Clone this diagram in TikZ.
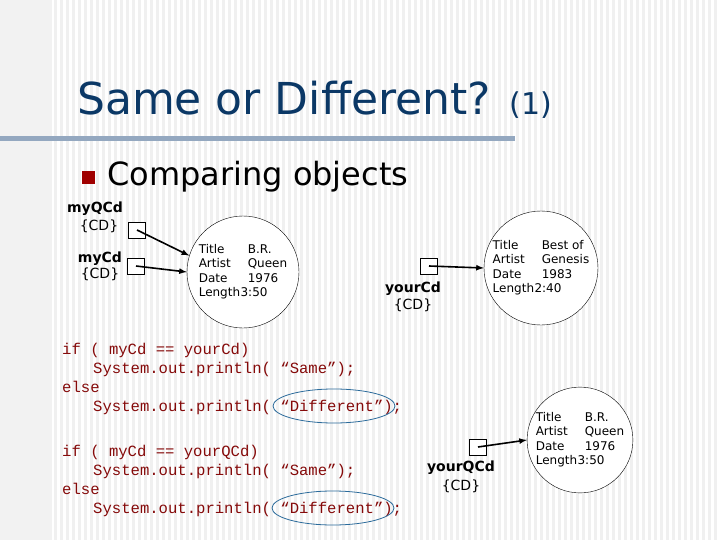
\documentclass[tikz,border=0pt]{standalone}
\usepackage{fontspec}
\setmainfont{DejaVu Sans}
\newfontfamily\codefont{Liberation Mono}
\definecolor{titleblue}{HTML}{0B3866}
\definecolor{codered}{HTML}{850A0A}
\definecolor{ringblue}{HTML}{2A6A9A}
\definecolor{rulegray}{HTML}{94A8C0}
\definecolor{bullred}{HTML}{A00000}
\begin{document}
\begin{tikzpicture}[x=1pt,y=-1pt,
  refbox/.style={draw,fill=white,minimum width=17pt,minimum height=16pt,inner sep=0pt},
  varname/.style={font=\fontsize{14}{15}\selectfont\bfseries,inner sep=0pt},
  vartype/.style={font=\fontsize{14}{15}\selectfont,inner sep=0pt},
  obj/.style={draw,circle,fill=white,inner sep=0pt,font=\fontsize{12}{14.5}\selectfont},
  ptr/.style={-latex,line width=1.6pt},
  code/.style={anchor=base west,inner sep=0pt,text=codered,font=\codefont\fontsize{15.6}{15}\selectfont},
  ring/.style={draw=ringblue,line width=0.8pt}]
\useasboundingbox (0,0) rectangle (720,540);
\fill[white] (0,0) rectangle (720,540);
\foreach \i in {0,...,119}{\fill[black!6] (\i*6,0) rectangle (\i*6+3,540);}
\foreach \i in {0,...,8}{\fill[black!11] (\i*6,0) rectangle (\i*6+3,540);}
\fill[black!5] (0,0) rectangle (52,540);
\fill[rulegray] (0,136) rectangle (515,141);
\node[anchor=base west,inner sep=0pt,text=titleblue,font=\fontsize{44}{46}\selectfont] (title) at (77,115) {Same or Different? {\fontsize{30}{30}\selectfont(1)}};
\fill[bullred] (82,171) rectangle (95,184);
\node[anchor=base west,inner sep=0pt,font=\fontsize{32}{34}\selectfont] (bul) at (107,186) {Comparing objects};
% variables
\node[varname] (qn) at (95,209) {myQCd};
\node[vartype] (qt) at (99,226) {\{CD\}};
\node[refbox] (qb) at (137,230) {};
\node[varname] (mn) at (100,259) {myCd};
\node[vartype] (mt) at (100,274) {\{CD\}};
\node[refbox] (mb) at (136,266) {};
\node[obj,minimum size=112pt] (c1) at (243,272) {\begin{tabular}{@{}l@{\ \ }l@{}}Title&B.R.\\Artist&Queen\\Date&1976\\Length&\hspace{-0.6em}3:50\end{tabular}};
\draw[ptr] (qb.center) -- (c1.163);
\draw[ptr] (mb.center) -- (c1.west);
\node[refbox] (yb) at (429,266) {};
\node[varname] (yn) at (413,289) {yourCd};
\node[vartype] (yt) at (413,305) {\{CD\}};
\node[obj,minimum size=114pt] (c2) at (541,268) {\begin{tabular}{@{}l@{\ \ }l@{}}Title&Best of\\Artist&Genesis\\Date&1983\\Length&\hspace{-0.6em}2:40\end{tabular}};
\draw[ptr] (yb.center) -- (c2.west);
\node[refbox] (zb) at (478,447) {};
\node[varname] (zn) at (461,468) {yourQCd};
\node[vartype] (zt) at (461,486) {\{CD\}};
\node[obj,minimum size=104pt] (c3) at (580,440) {\begin{tabular}{@{}l@{\ \ }l@{}}Title&B.R.\\Artist&Queen\\Date&1976\\Length&\hspace{-0.6em}3:50\end{tabular}};
\draw[ptr] (zb.center) -- (c3.west);
% code
\node[code] (l1) at (62,354) {if ( myCd == yourCd)};
\node[code] (l2) at (93,373) {System.out.println( “Same”);};
\node[code] (l3) at (62,392) {else};
\node[code] (l4) at (93,411) {System.out.println( “Different”);};
\node[code] (l5) at (62,456) {if ( myCd == yourQCd)};
\node[code] (l6) at (93,475) {System.out.println( “Same”);};
\node[code] (l7) at (62,494) {else};
\node[code] (l8) at (93,513) {System.out.println( “Different”);};
\draw[ring] (334,406) ellipse (61 and 17);
\draw[ring] (333,508) ellipse (61 and 17);
\end{tikzpicture}
\end{document}
